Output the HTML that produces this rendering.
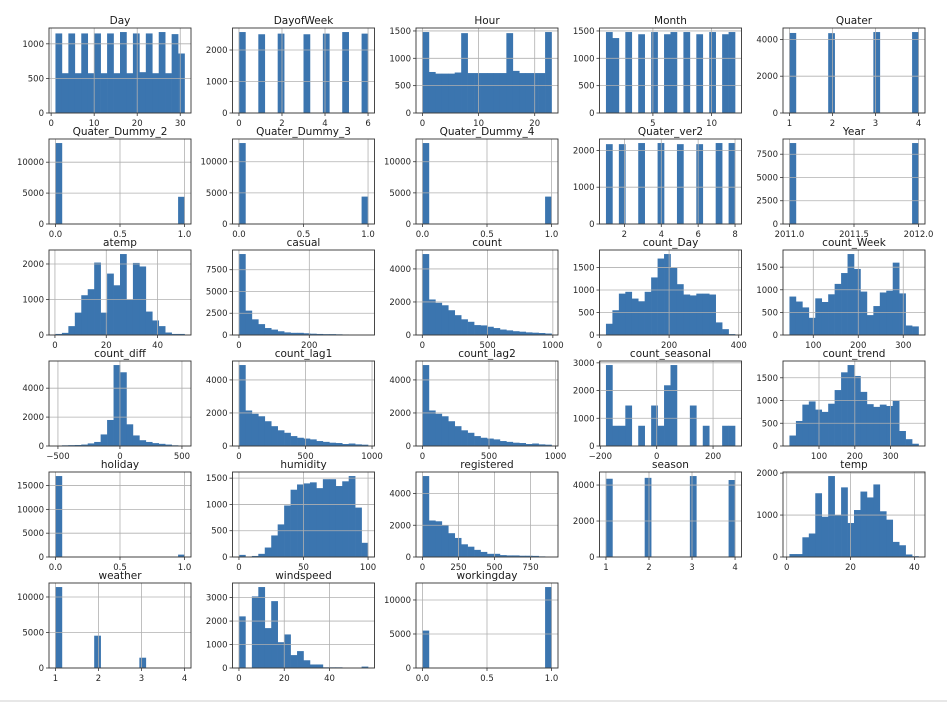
<!DOCTYPE html>
<html><head><meta charset="utf-8">
<style>
html,body{margin:0;padding:0;background:#fff;}
#wrap{position:relative;width:947px;height:704px;overflow:hidden;}
svg text{font-family:"DejaVu Sans","Liberation Sans",sans-serif;}
</style></head>
<body>
<div id="wrap">
<svg id="fig" width="947" height="704" viewBox="0 0 947 704">
<line x1="0" y1="701" x2="947" y2="701" stroke="#cfcfcf" stroke-width="1"/>
</svg>
</div>
<script>
const titles = ["Day","DayofWeek","Hour","Month","Quater","Quater_Dummy_2","Quater_Dummy_3","Quater_Dummy_4","Quater_ver2","Year","atemp","casual","count","count_Day","count_Week","count_diff","count_lag1","count_lag2","count_seasonal","count_trend","holiday","humidity","registered","season","temp","weather","windspeed","workingday"];
const binLo = [1,0,0,1,1,0,0,0,1,2011,0.2,0,1,18.5,47,-520,0,0,-180,17.5,0,0,0,1,0.86,1,0,0];
const binHi = [31,6,23,12,4,1,1,1,8,2012,50.5,367,990,389.5,334,521,970,970,278,378,1,100,896,4,41.3,4,57,1];

const dayCounts = [1150,575,1150,575,1150,575,1150,575,1150,575,1170,575,1150,590,1150,575,1170,575,1140,860];
const dayofweekCounts = [2570,0,0,2500,0,0,2520,0,0,0,2500,0,0,2520,0,0,2570,0,0,2520];
const hourCounts = [1480,750,720,720,720,740,1460,730,730,730,730,730,730,1460,770,730,730,730,730,1480];
const monthCounts = [1480,1370,0,1480,0,1440,0,1480,0,1440,1480,0,1480,0,1440,0,1480,0,1440,1480];
const quaterCounts = [4350,0,0,0,0,0,4340,0,0,0,0,0,0,4400,0,0,0,0,0,4400];
const qd2Counts = [13100,0,0,0,0,0,0,0,0,0,0,0,0,0,0,0,0,0,0,4400];
const qd3Counts = [13000,0,0,0,0,0,0,0,0,0,0,0,0,0,0,0,0,0,0,4400];
const qd4Counts = [13000,0,0,0,0,0,0,0,0,0,0,0,0,0,0,0,0,0,0,4400];
const qv2Counts = [2170,0,2170,0,0,2200,0,0,2200,0,0,2170,0,0,2170,0,0,2200,0,2200];
const yearCounts = [8700,0,0,0,0,0,0,0,0,0,0,0,0,0,0,0,0,0,0,8700];
const atempCounts = [30,60,250,630,1120,1290,2040,630,1730,1400,2280,1000,2030,1930,660,410,250,70,30,30];
const casualCounts = [9300,2800,1800,1250,800,620,430,300,250,250,200,150,120,100,100,80,60,10,5,5];
const countCounts = [4900,2150,1950,1800,1500,1200,950,800,600,580,500,420,330,280,230,200,160,140,120,90];
const countDayCounts = [250,550,920,960,810,750,960,1280,1700,1800,1500,1130,900,880,920,920,900,280,130,20];
const countWeekCounts = [850,740,610,380,810,730,900,1130,1370,1790,1460,960,440,640,940,980,1600,920,210,190];
const countDiffCounts = [10,50,60,70,100,180,280,800,1800,5600,5100,1500,730,400,280,200,150,100,50,20];
const countLag1Counts = [4900,2150,1950,1800,1500,1200,950,800,600,500,450,400,300,250,200,180,120,150,100,80];
const countLag2Counts = [4900,2150,1950,1800,1500,1200,950,800,600,500,450,400,300,250,200,180,120,150,100,80];
const seasonalCounts = [2920,730,730,1460,0,730,0,1460,730,2190,2920,0,0,1460,0,730,0,0,730,730];
const trendCounts = [230,550,910,980,800,750,930,1230,1620,1780,1540,1190,920,860,910,880,990,330,150,50];
const holidayCounts = [17000,0,0,0,0,0,0,0,0,0,0,0,0,0,0,0,0,0,0,500];
const humidityCounts = [40,0,20,60,180,410,620,980,1280,1380,1400,1420,1310,1480,1480,1350,1440,1540,940,270];
const registeredCounts = [5100,2300,2250,2000,1500,1200,800,650,450,320,200,200,120,100,100,80,80,70,40,0];
const seasonCounts = [4350,0,0,0,0,0,4400,0,0,0,0,0,0,4500,0,0,0,0,0,4280];
const tempCounts = [70,70,470,560,1520,960,1930,990,1660,810,1120,1560,1420,1730,1090,890,360,280,60,20];
const weatherCounts = [11400,0,0,0,0,0,4550,0,0,0,0,0,0,1450,0,0,0,0,0,3];
const windCounts = [2200,0,3050,3450,1700,2850,1100,1430,550,720,330,150,150,30,30,30,0,0,0,60];
const workingdayCounts = [5500,0,0,0,0,0,0,0,0,0,0,0,0,0,0,0,0,0,0,11900];

const countSeries = [dayCounts,dayofweekCounts,hourCounts,monthCounts,quaterCounts,qd2Counts,qd3Counts,qd4Counts,qv2Counts,yearCounts,atempCounts,casualCounts,countCounts,countDayCounts,countWeekCounts,countDiffCounts,countLag1Counts,countLag2Counts,seasonalCounts,trendCounts,holidayCounts,humidityCounts,registeredCounts,seasonCounts,tempCounts,weatherCounts,windCounts,workingdayCounts];

const xTicks = [[0,10,20,30],[0,2,4,6],[0,10,20],[5,10],[1,2,3,4],[0,0.5,1],[0,0.5,1],[0,0.5,1],[2,4,6,8],[2011,2011.5,2012],[0,20,40],[0,200],[0,500,1000],[0,200,400],[100,200,300],[-500,0,500],[0,500,1000],[0,500,1000],[-200,0,200],[100,200,300],[0,0.5,1],[0,50,100],[0,250,500,750],[1,2,3,4],[0,20,40],[1,2,3,4],[0,20,40],[0,0.5,1]];
const xTickLabels = [["0","10","20","30"],["0","2","4","6"],["0","10","20"],["5","10"],["1","2","3","4"],["0.0","0.5","1.0"],["0.0","0.5","1.0"],["0.0","0.5","1.0"],["2","4","6","8"],["2011.0","2011.5","2012.0"],["0","20","40"],["0","200"],["0","500","1000"],["0","200","400"],["100","200","300"],["\u2212500","0","500"],["0","500","1000"],["0","500","1000"],["\u2212200","0","200"],["100","200","300"],["0.0","0.5","1.0"],["0","50","100"],["0","250","500","750"],["1","2","3","4"],["0","20","40"],["1","2","3","4"],["0","20","40"],["0.0","0.5","1.0"]];
const yTicks = [[0,500,1000],[0,1000,2000],[0,500,1000,1500],[0,500,1000,1500],[0,2000,4000],[0,5000,10000],[0,5000,10000],[0,5000,10000],[0,1000,2000],[0,2500,5000,7500],[0,1000,2000],[0,2500,5000,7500],[0,2000,4000],[0,500,1000,1500],[0,500,1000,1500],[0,2000,4000],[0,2000,4000],[0,2000,4000],[0,1000,2000,3000],[0,500,1000,1500],[0,5000,10000,15000],[0,500,1000,1500],[0,2000,4000],[0,2000,4000],[0,1000,2000],[0,5000,10000],[0,1000,2000,3000],[0,5000,10000]];

const NS = "http://www.w3.org/2000/svg";
const fig = document.getElementById("fig");
const colLeft = [49,232.5,416,599.5,783];
const rowTop = [28,139,250,361,472,583];
const AW = 142, AH = 85;
const BAR = "#3b75af";
function mk(tag, attrs, parent){
  const e = document.createElementNS(NS, tag);
  for (const k in attrs) e.setAttribute(k, attrs[k]);
  parent.appendChild(e);
  return e;
}
function slug(s){ return s.toLowerCase().replace(/_/g,'-'); }

titles.forEach((title, p) => {
  const L = colLeft[p % 5], T = rowTop[Math.floor(p / 5)];
  const lo = binLo[p], hi = binHi[p], R = hi - lo;
  const x0 = lo - 0.05 * R, x1 = hi + 0.05 * R;
  const counts = countSeries[p];
  const ymax = Math.max(...counts) * 1.05;
  const sx = v => L + (v - x0) / (x1 - x0) * AW;
  const sy = v => T + AH - v / ymax * AH;
  const g = mk("g", {}, fig);
  
  
  const nb = counts.length, w = R / nb;
  counts.forEach((c, i) => {
    if (c <= 0) return;
    const a = sx(lo + i * w), b = sx(lo + (i + 1) * w);
    const r = mk("rect", {x: a, y: sy(c), width: Math.max(b - a + 0.3, 0.5), height: sy(0) - sy(c), fill: BAR}, g);
    
    
  });
  xTicks[p].forEach((v, i) => {
    const x = sx(v);
    const gl = mk("line", {x1: x, y1: T, x2: x, y2: T + AH, stroke: "#b0b0b0", "stroke-width": 0.8}, g);
    
    
    mk("line", {x1: x, y1: T + AH, x2: x, y2: T + AH + 3, stroke: "#333", "stroke-width": 0.8}, g);
    const t = mk("text", {x: x, y: T + AH + 13, "font-size": 8.5, fill: "#262626", "text-anchor": "middle"}, g);
    t.textContent = xTickLabels[p][i];
    
    
  });
  yTicks[p].forEach(v => {
    const y = sy(v);
    const gl = mk("line", {x1: L, y1: y, x2: L + AW, y2: y, stroke: "#b0b0b0", "stroke-width": 0.8}, g);
    
    
    mk("line", {x1: L - 3, y1: y, x2: L, y2: y, stroke: "#333", "stroke-width": 0.8}, g);
    const t = mk("text", {x: L - 5, y: y + 3, "font-size": 8.5, fill: "#262626", "text-anchor": "end"}, g);
    t.textContent = String(v);
    
    
  });
  const fr = mk("rect", {x: L, y: T, width: AW, height: AH, fill: "none", stroke: "#333", "stroke-width": 0.9}, g);
  
  
  const tt = mk("text", {x: L + AW / 2, y: T - 4, "font-size": 10.5, fill: "#1a1a1a", "text-anchor": "middle"}, g);
  tt.textContent = title;
  
  
});
</script>
</body></html>
